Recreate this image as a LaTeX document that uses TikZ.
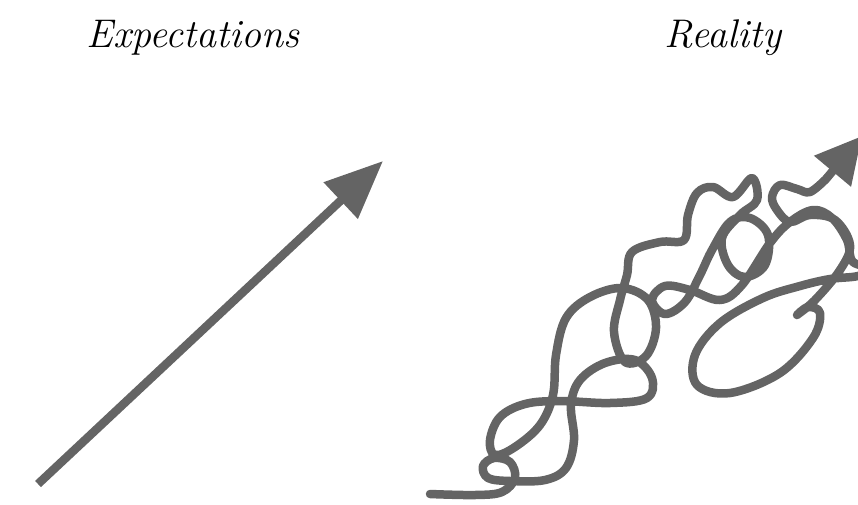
\documentclass[tikz,border=0pt]{standalone}
\usepackage{tikz}
\usetikzlibrary{arrows.meta}
\definecolor{inkgray}{RGB}{100,100,100}

\begin{document}
\begin{tikzpicture}[x=1pt,y=-1pt,
    title/.style={anchor=base,font=\fontsize{40}{48}\selectfont\itshape},
    stroke/.style={draw=inkgray,line width=8.5pt,line cap=round,line join=round}]
	\useasboundingbox (0,0) rectangle (858,504);
	\clip (0,0) rectangle (858,504);
	\node[title] (expect) at (193,47) {Expectations};
	\node[title] (reality) at (723,47) {Reality};
	% straight arrow
	\coordinate (plainstart) at (38,484);
	\coordinate (plaintip) at (383,161);
	\draw[stroke,line cap=butt,-{Triangle[length=58pt,width=48pt]}] (plainstart) -- (plaintip);
	% tangled arrow
	\coordinate (tanglelast) at (826,179);
	\coordinate (tangletip) at (862,136);
	\draw[stroke] plot[smooth,tension=0.6] coordinates {
		(430,494) (475,495) (502,492) (515,478) (510,462) (494,458) (483,466) (488,478)
		(510,481) (545,480) (566,468) (574,440) (571,405) (580,380) (605,363)
		(635,360) (652,378) (647,398) (610,403) (560,401) (525,404) (500,417) (490,440)
		(495,455) (515,447) (540,425) (553,395) (556,355) (566,318) (590,297) (622,288)
		(648,300) (656,328) (646,356) (625,362) (614,332) (620,300) (627,275) (632,252)
		(660,242) (684,240) (688,215) (697,193) (713,187) (733,197) (752,178) (757,200)
		(740,215) (722,238) (728,265) (745,277) (765,265) (768,235) (750,218) (730,222)
		(712,250) (700,275) (685,302) (665,314) (652,300) (665,286) (690,290) (720,300)
		(742,285) (770,243) (790,222) (813,210) (832,218) (847,240) (853,262) (875,268)
		(858,276) (830,279) (800,286) (763,298) (720,323) (695,355) (697,385) (730,393)
		(780,373) (813,338) (820,313) (808,307) (797,315) (815,300) (840,270) (850,245)
		(835,220) (810,215) (790,222) (777,210) (772,197) (780,185) (797,189) (810,192)
		(tanglelast)};
	\draw[stroke,line cap=butt,-{Triangle[length=46pt,width=46pt]}] (tanglelast) -- (tangletip);
\end{tikzpicture}
\end{document}
